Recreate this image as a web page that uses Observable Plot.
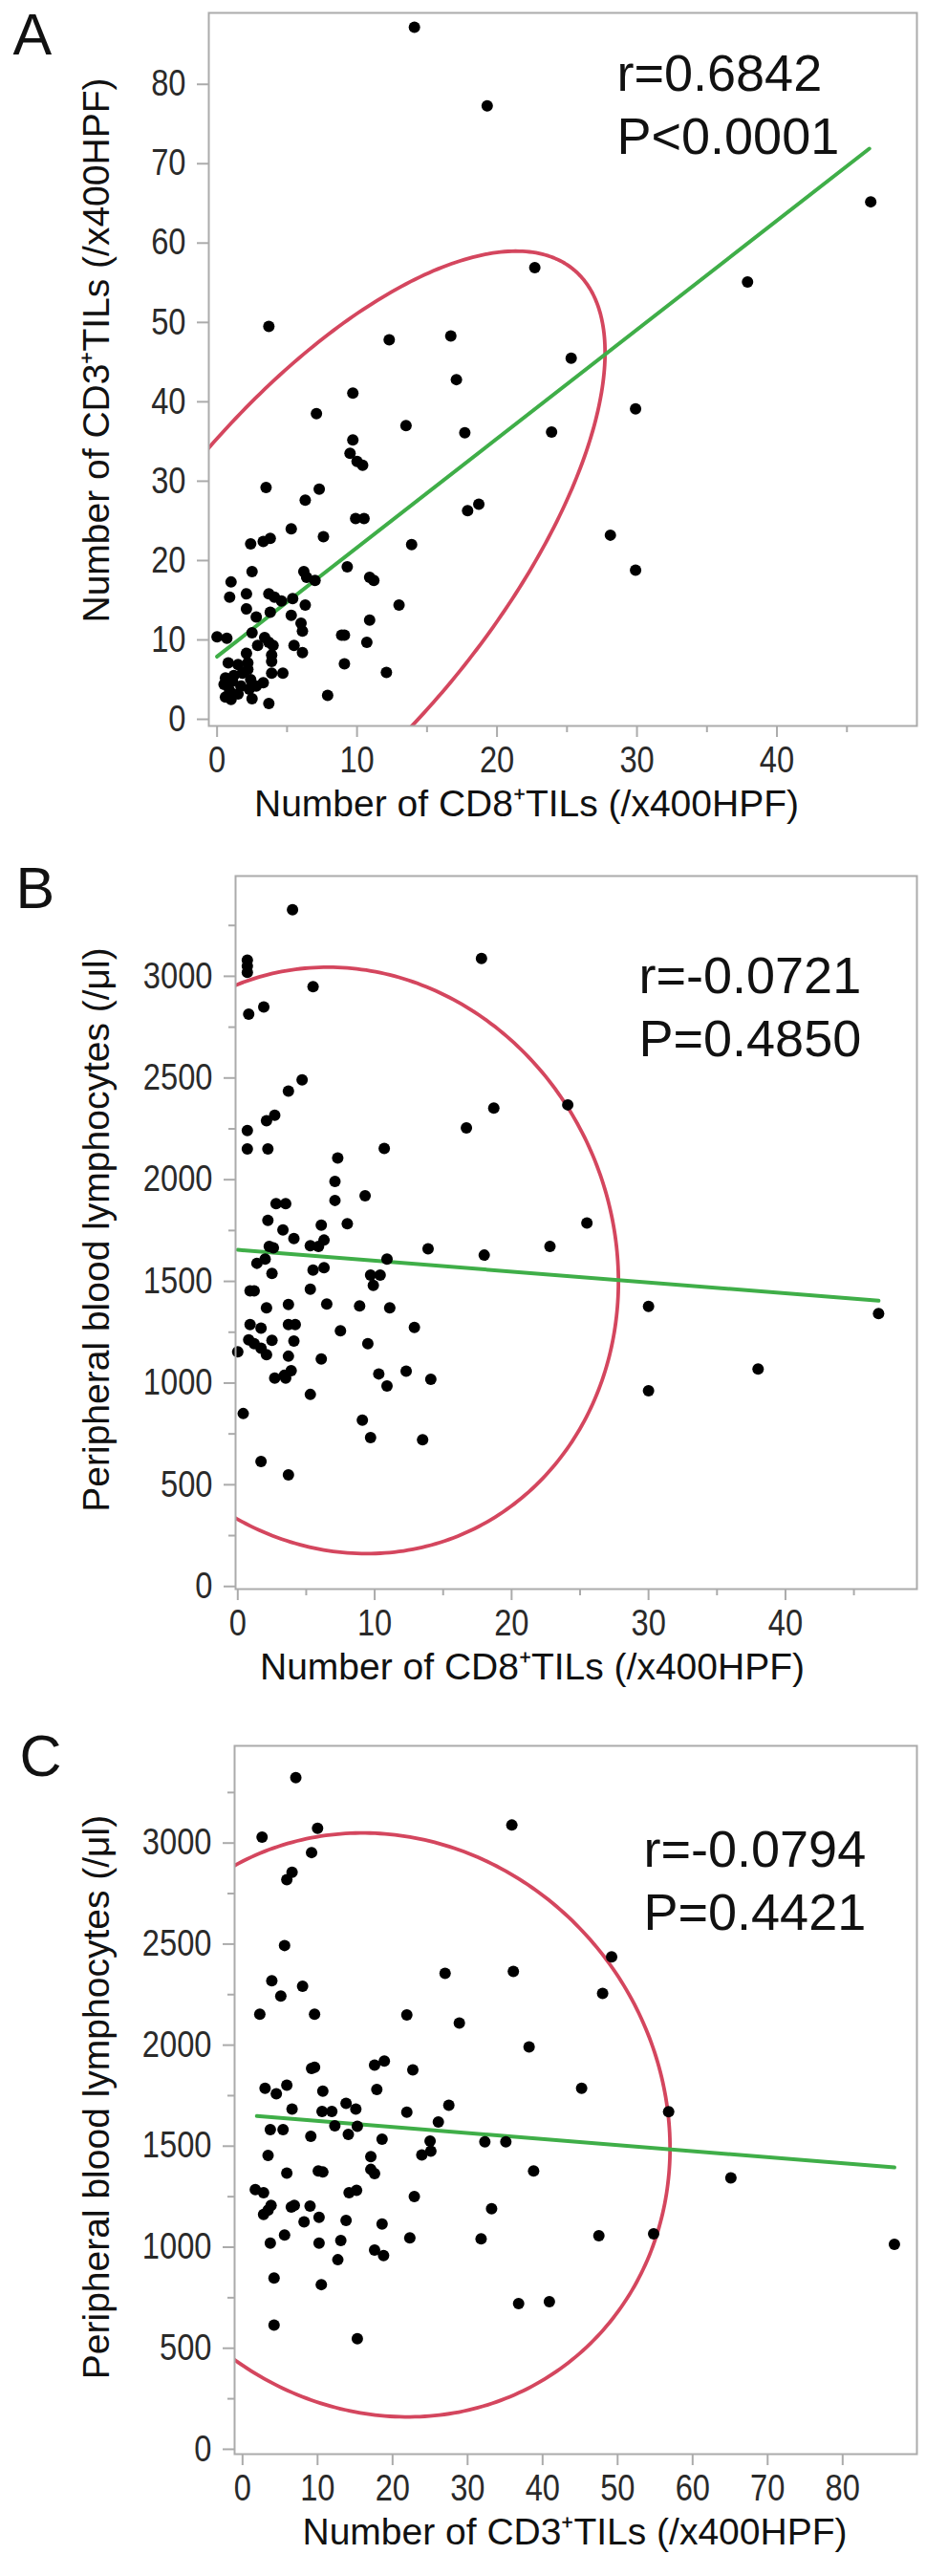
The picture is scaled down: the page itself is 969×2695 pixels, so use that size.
<!DOCTYPE html>
<html>
<head>
<meta charset="utf-8">
<script src="https://cdn.jsdelivr.net/npm/d3@7"></script>
<script src="https://cdn.jsdelivr.net/npm/@observablehq/plot@0.6"></script>
<style>
  html, body { margin: 0; padding: 0; background: #fff; }
  #wrap { position: relative; width: 969px; height: 2695px; overflow: hidden; background: #fff; }
  #wrap svg { position: absolute; left: 0; }
</style>
</head>
<body>
<div id="wrap"></div>
<script>
// ---------- Panel A: CD8+ TILs (x) vs CD3+ TILs (y) ----------
const aCD8 = [14.1,19.3,46.7,37.9,22.7,3.7,12.3,16.7,25.3,17.1,9.7,29.9,7.1,13.5,23.9,17.7,9.7,9.5,10.0,10.4,
  3.5,7.3,6.3,18.7,17.9,9.9,10.5,5.3,28.1,7.6,3.8,3.3,2.4,13.9,29.9,9.3,2.5,6.2,6.4,7.0,
  10.9,11.2,1.0,13.0,10.9,12.1,9.1,8.9,10.7,9.1,7.9,
  0.9,2.1,3.7,4.1,4.6,5.4,6.3,2.1,2.8,3.8,5.3,6.0,6.1,2.5,0.0,0.7,3.4,3.7,4.0,2.9,
  5.5,6.1,2.1,3.9,0.8,1.5,2.2,3.9,2.2,4.7,3.9,0.5,1.1,1.7,2.3,2.8,3.3,0.6,1.5,2.5,
  0.9,3.7,1.2,0.6,1.8,2.4,1.0];
const aCD3 = [87.2,77.3,65.2,55.1,56.9,49.5,47.8,48.3,45.5,42.8,41.1,39.1,38.5,37.0,36.2,36.1,35.2,33.5,32.5,32.0,
  29.2,29.0,27.6,27.1,26.3,25.3,25.3,24.0,23.2,23.0,22.8,22.4,22.1,22.0,18.8,19.2,18.6,18.6,17.9,17.5,
  17.9,17.5,17.3,14.4,12.5,5.9,10.6,10.6,9.7,7.0,3.0,
  15.4,15.8,15.8,15.4,14.9,15.2,14.4,13.9,12.9,13.5,13.1,12.1,11.1,10.9,10.4,10.2,10.3,9.7,9.3,9.3,
  9.3,8.4,8.3,8.1,7.1,6.9,7.1,7.3,6.3,5.8,5.8,4.4,4.8,4.2,3.8,4.2,4.6,2.8,3.2,2.6,
  3.6,2.0,5.5,5.2,5.8,5.0,2.5];
const aFitX = [0, 46.6];
const aFitY = [7.9, 71.9];
// density ellipse: mean x, mean y, sd x, sd y, r
const aEllipse = [7.6, 18.5, 8.22, 16.54, 0.6842];
const aStats = "r=0.6842\nP<0.0001";
const aXTicks = [0, 10, 20, 30, 40];
const aXMinor = [5, 15, 25, 35, 45];
const aYTicks = [0, 10, 20, 30, 40, 50, 60, 70, 80];

// ---------- Panel B: CD8+ TILs (x) vs peripheral blood lymphocytes (y) ----------
const bCD8 = [0.7,0.7,0.7,5.5,17.8,0.8,1.9,4.7,3.7,2.7,2.1,0.7,0.7,2.2,10.7,7.3,18.7,16.7,7.1,7.1,
  9.3,2.8,3.5,2.2,3.3,4.1,6.1,8.0,5.3,5.9,6.3,2.3,2.6,13.9,18.0,22.8,
  10.9,1.4,2.0,2.5,5.5,6.3,9.7,10.4,9.9,0.9,1.2,5.3,2.1,3.7,6.5,8.9,11.1,0.9,1.7,3.7,
  4.2,7.5,12.9,0.0,0.8,1.2,1.7,2.1,2.5,4.1,3.7,6.1,9.5,2.7,3.4,3.9,3.5,5.3,10.3,10.9,
  12.3,14.1,0.4,9.1,9.7,13.5,1.7,3.7,
  4.0,24.1,25.5,30.0,30.0,38.0,46.8];
const bPBL = [3080,3050,3020,2949,3088,2814,2849,2491,2436,2317,2290,2242,2151,2151,2154,2107,2352,2255,1991,1898,
  1921,1882,1882,1800,1753,1711,1776,1784,1675,1672,1703,1672,1665,1660,1629,1672,
  1610,1589,1610,1539,1555,1567,1531,1531,1480,1453,1453,1461,1370,1386,1389,1379,1370,1288,1270,1288,
  1288,1257,1273,1154,1213,1194,1171,1140,1210,1207,1132,1119,1194,1025,1038,1061,1025,944,1045,986,
  1058,1019,850,818,732,721,614,549,
  3327,2368,1787,1377,962,1069,1342];
const bFitX = [0, 46.8];
const bFitY = [1655, 1405];
const bEllipse = [8.0, 1603, 8.09, 589, -0.0721];
const bStats = "r=-0.0721\nP=0.4850";
const bXTicks = [0, 10, 20, 30, 40];
const bXMinor = [5, 15, 25, 35, 45];
const pblTicks = [0, 500, 1000, 1500, 2000, 2500, 3000];
const pblMinor = [250, 750, 1250, 1750, 2250, 2750, 3250];

// ---------- Panel C: CD3+ TILs (x) vs peripheral blood lymphocytes (y) ----------
const cCD3 = [7.1,2.6,10.0,35.9,9.2,6.6,5.9,5.6,3.9,5.1,8.0,2.3,9.6,21.9,27.0,36.1,49.2,48.0,28.9,38.2,
  9.2,9.6,17.6,18.9,22.7,45.2,3.0,4.5,5.9,10.7,17.9,13.8,15.1,6.6,10.6,11.9,21.9,27.5,
  3.7,5.4,12.3,14.1,15.3,9.1,18.6,26.1,25.0,25.1,23.9,32.3,35.1,3.4,17.1,5.9,10.1,10.7,
  17.1,17.6,38.8,1.7,2.8,14.2,15.2,22.9,3.8,2.8,3.4,6.5,6.9,9.0,8.2,10.2,13.8,18.6,33.2,
  3.7,5.6,10.2,13.1,12.7,17.6,18.8,22.3,31.8,47.5,4.2,10.5,36.8,40.9,4.2,15.3,
  56.8,54.8,65.1,86.9];
const cPBL = [3324,3029,3073,3089,2953,2856,2819,2493,2319,2243,2291,2153,2153,2150,2355,2365,2437,2256,2109,1991,
  1885,1890,1901,1921,1877,1786,1786,1759,1802,1772,1780,1712,1684,1684,1672,1672,1668,1703,
  1582,1582,1601,1558,1598,1549,1535,1620,1525,1475,1456,1522,1522,1454,1448,1367,1377,1372,
  1385,1364,1377,1285,1270,1270,1282,1251,1207,1162,1183,1199,1207,1203,1125,1148,1132,1115,1191,
  1020,1060,1020,1033,938,986,959,1046,1041,1057,847,815,721,730,615,547,
  1670,1066,1343,1014];
const cFitX = [1.9, 86.9];
const cFitY = [1649, 1395];
const cEllipse = [19.0, 1605, 15.52, 590.3, -0.0794];
const cStats = "r=-0.0794\nP=0.4421";
const cXTicks = [0, 10, 20, 30, 40, 50, 60, 70, 80];

// ---------- helpers ----------
const FONT = "'Liberation Sans', Arial, Helvetica, sans-serif";
const RED = "#d4465e";
const GREEN = "#3fae48";
const FRAME = "#ababab";
const CHI2_95 = 5.991; // 2 d.f. 95% density ellipse

function ellipsePoints(p) {
  const [mx, my, sx, sy, r] = p;
  const c = Math.sqrt(CHI2_95);
  return d3.range(0, 361).map(i => {
    const t = i * Math.PI / 180;
    return {x: mx + c * sx * Math.cos(t),
            y: my + c * sy * (r * Math.cos(t) + Math.sqrt(1 - r * r) * Math.sin(t))};
  });
}

function panel(cfg) {
  const pts = cfg.xs.map((x, i) => ({x, y: cfg.ys[i]}));
  const fit = cfg.fitX.map((x, i) => ({x, y: cfg.fitY[i]}));
  const marks = [
    Plot.line(ellipsePoints(cfg.ellipse), {x: "x", y: "y", stroke: RED, strokeWidth: 3.8, clip: true}),
    Plot.line(fit, {x: "x", y: "y", stroke: GREEN, strokeWidth: 4, clip: true}),
    Plot.dot(pts, {x: "x", y: "y", r: 6, fill: "#000", stroke: "none"}),
    Plot.axisX(cfg.xTicks, {tickSize: 12, tickPadding: 10, fontSize: 38,
      stroke: FRAME, strokeWidth: 2, tickFormat: d => String(d), label: null, fill: "#2a2a2a"}),
    Plot.axisY(cfg.yTicks, {tickSize: 12, tickPadding: 12, fontSize: 38,
      stroke: FRAME, strokeWidth: 2, tickFormat: d => String(d), label: null, fill: "#2a2a2a"}),
  ];
  if (cfg.xMinor) marks.push(Plot.axisX(cfg.xMinor, {tickSize: 7, stroke: FRAME, strokeWidth: 2,
      tickFormat: () => "", label: null}));
  if (cfg.yMinor) marks.push(Plot.axisY(cfg.yMinor, {tickSize: 7, stroke: FRAME, strokeWidth: 2,
      tickFormat: () => "", label: null}));
  marks.push(
    Plot.frame({stroke: FRAME, strokeWidth: 2}),
    Plot.text([cfg.stats], {frameAnchor: "top-left", dx: cfg.statsDx, dy: cfg.statsDy,
      textAnchor: "start", lineAnchor: "top", lineHeight: 1.22, fontSize: 54, fill: "#111"}),
    Plot.text([cfg.letter], {frameAnchor: "top-left", dx: cfg.letterDx, dy: cfg.letterDy,
      textAnchor: "start", lineAnchor: "top", fontSize: 61, fill: "#111"}),
    Plot.text([cfg.xLabel], {frameAnchor: "bottom", dx: cfg.xLabelDx, dy: 94,
      textAnchor: "middle", lineAnchor: "bottom", fontSize: 39, fill: "#111"}),
    Plot.text([cfg.yLabel], {frameAnchor: "left", dx: cfg.yLabelDx, dy: cfg.yLabelDy, rotate: -90,
      textAnchor: "middle", lineAnchor: "bottom", fontSize: 39, fill: "#111"})
  );
  const svg = Plot.plot({
    width: 969, height: cfg.height,
    marginTop: cfg.mt, marginBottom: cfg.mb, marginLeft: cfg.ml, marginRight: cfg.mr,
    style: {fontFamily: FONT, background: "#fff", color: "#2a2a2a", overflow: "visible"},
    x: {domain: cfg.xDomain, label: null},
    y: {domain: cfg.yDomain, label: null},
    marks
  });
  // the original tick numerals are set in a narrow face: condense them horizontally
  svg.querySelectorAll('g[aria-label="x-axis tick label"] text, g[aria-label="y-axis tick label"] text')
    .forEach(t => {
      const tr = t.getAttribute("transform") || "";
      t.setAttribute("transform", tr + " scale(0.86,1)");
    });
  svg.style.top = cfg.top + "px";
  return svg;
}

const wrap = document.getElementById("wrap");
wrap.append(panel({
  top: 0, height: 890, mt: 13, mb: 131, ml: 218, mr: 10,
  xs: aCD8, ys: aCD3, fitX: aFitX, fitY: aFitY, ellipse: aEllipse,
  xDomain: [-0.59, 50.0], yDomain: [-0.84, 89.0],
  xTicks: aXTicks, xMinor: aXMinor, yTicks: aYTicks, yMinor: null,
  stats: aStats, statsDx: 427, statsDy: 35,
  letter: "A", letterDx: -205, letterDy: 0,
  xLabel: "Number of CD8\u207ATILs (/x400HPF)", xLabelDx: -38,
  yLabel: "Number of CD3\u207ATILs (/x400HPF)", yLabelDx: -105, yLabelDy: -20
}));
wrap.append(panel({
  top: 890, height: 900, mt: 26, mb: 128, ml: 246, mr: 10,
  xs: bCD8, ys: bPBL, fitX: bFitX, fitY: bFitY, ellipse: bEllipse,
  xDomain: [-0.16, 49.6], yDomain: [-13, 3493],
  xTicks: bXTicks, xMinor: bXMinor, yTicks: pblTicks, yMinor: pblMinor,
  stats: bStats, statsDx: 422, statsDy: 76,
  letter: "B", letterDx: -230, letterDy: -10,
  xLabel: "Number of CD8\u207ATILs (/x400HPF)", xLabelDx: -46,
  yLabel: "Peripheral blood lymphocytes (/\u03BCl)", yLabelDx: -133, yLabelDy: -3
}));
wrap.append(panel({
  top: 1790, height: 905, mt: 36, mb: 128, ml: 245, mr: 10,
  xs: cCD3, ys: cPBL, fitX: cFitX, fitY: cFitY, ellipse: cEllipse,
  xDomain: [-1.06, 89.9], yDomain: [-24, 3481],
  xTicks: cXTicks, xMinor: null, yTicks: pblTicks, yMinor: pblMinor,
  stats: cStats, statsDx: 428, statsDy: 80,
  letter: "C", letterDx: -225, letterDy: -12,
  xLabel: "Number of CD3\u207ATILs (/x400HPF)", xLabelDx: -1,
  yLabel: "Peripheral blood lymphocytes (/\u03BCl)", yLabelDx: -132, yLabelDy: -3
}));
</script>
</body>
</html>
